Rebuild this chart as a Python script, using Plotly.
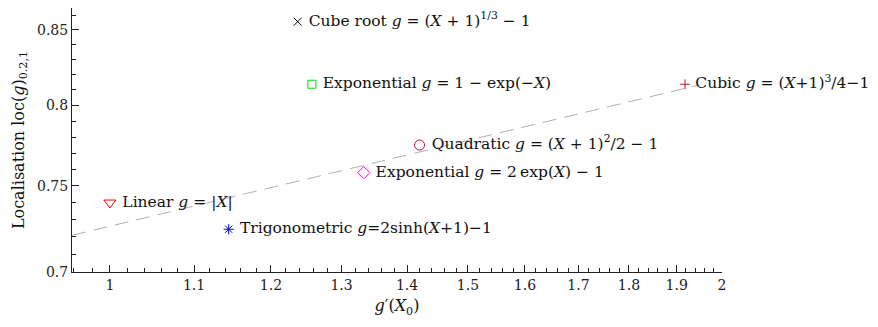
import numpy as np
import plotly.graph_objects as go

# g'(X0) and localisation values
names = [
    "Linear <i>g</i> = |<i>X</i>|",
    "Trigonometric <i>g</i>=2sinh(<i>X</i>+1)\u22121",
    "Exponential <i>g</i> = 2\u2009exp(<i>X</i>) \u2212 1",
    "Quadratic <i>g</i> = (<i>X</i> + 1)<sup>2</sup>/2 \u2212 1",
    "Cubic <i>g</i> = (<i>X</i>+1)<sup>3</sup>/4\u22121",
    "Exponential <i>g</i> = 1 \u2212 exp(\u2212<i>X</i>)",
    "Cube root <i>g</i> = (<i>X</i> + 1)<sup>1/3</sup> \u2212 1",
]
gprime = [1.0, 1.144, 1.333, 1.42, 1.918, 1.257, 1.237]
loc = [0.740, 0.7244, 0.758, 0.775, 0.8137, 0.8137, 0.8556]
symbols = ["triangle-down-open", "asterisk-open", "diamond-open", "circle-open",
           "cross-thin-open", "square-open", "x-thin-open"]
colors = ["#ff0000", "#0000ff", "#ff00ff", "#b5174a", "#c8103c", "#00e000", "#000000"]
sizes = [10.5, 8.5, 9.5, 10, 7, 8, 8]

# dashed trend line end points
trend_x = [0.958, 1.95]
trend_y = [0.7209, 0.8133]

xticks = [1, 1.1, 1.2, 1.3, 1.4, 1.5, 1.6, 1.7, 1.8, 1.9, 2]
yticks = [0.7, 0.75, 0.8, 0.85]

serif = "DejaVu Serif, Liberation Serif, serif"

fig = go.Figure()

fig.add_trace(go.Scatter(
    x=trend_x, y=trend_y, mode="lines",
    line=dict(color="#b0b0b0", width=1, dash="14px,8px"),
    hoverinfo="skip", showlegend=False,
))

for i in range(len(names)):
    fig.add_trace(go.Scatter(
        x=[gprime[i]], y=[loc[i]], mode="markers+text",
        text=[" " + names[i]], textposition="middle right",
        textfont=dict(family=serif, size=15.5, color="#111111"),
        marker=dict(symbol=symbols[i], size=sizes[i], color=colors[i],
                    line=dict(color=colors[i], width=1)),
        cliponaxis=False, showlegend=False,
    ))

minor_x = [v for v in np.round(np.arange(0.96, 2.001, 0.02), 2) if v not in xticks]
minor_y = [v for v in np.round(np.arange(0.70, 0.861, 0.01), 2) if v not in yticks]

fig.update_xaxes(
    type="log", range=[np.log10(0.958), np.log10(2.0)],
    tickmode="array", tickvals=xticks, ticktext=[str(v) for v in xticks],
    ticks="inside", ticklen=7, tickcolor="#222", showgrid=False, zeroline=False,
    showline=True, linecolor="#222", linewidth=1,
    minor=dict(tickmode="array", tickvals=minor_x, ticks="inside", ticklen=4,
               tickcolor="#222", showgrid=False),
    title=dict(text="<i>g</i>\u2032(<i>X</i><sub>0</sub>)",
               font=dict(family=serif, size=16, color="#111"), standoff=8),
    tickfont=dict(family=serif, size=14, color="#222"),
)
fig.update_yaxes(
    type="log", range=[np.log10(0.7), np.log10(0.865)],
    tickmode="array", tickvals=yticks, ticktext=[str(v) for v in yticks],
    ticks="inside", ticklen=7, tickcolor="#222", showgrid=False, zeroline=False,
    showline=True, linecolor="#222", linewidth=1,
    minor=dict(tickmode="array", tickvals=minor_y, ticks="inside", ticklen=4,
               tickcolor="#222", showgrid=False),
    title=dict(text="Localisation loc(<i>g</i>)<sub>0.2,1</sub>",
               font=dict(family=serif, size=16, color="#111"), standoff=8),
    tickfont=dict(family=serif, size=14, color="#222"),
)

# page body adds an 8px margin, so margins are trimmed to keep the plot area in place
fig.update_layout(
    width=870, height=319,
    margin=dict(l=64, r=156, t=0, b=55, autoexpand=False),
    plot_bgcolor="white", paper_bgcolor="white",
)

fig.write_html("out.html")
